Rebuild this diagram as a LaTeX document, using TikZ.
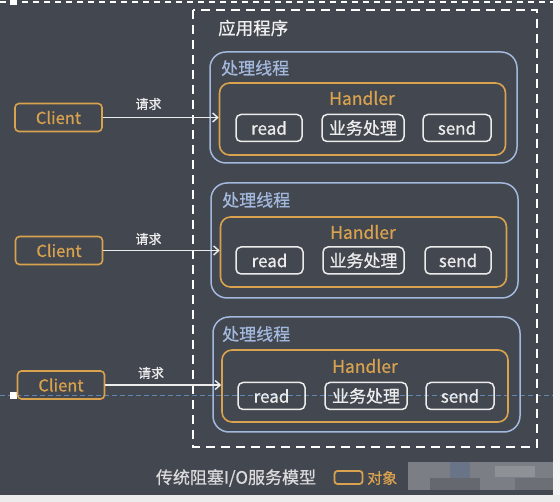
\documentclass[tikz,border=0pt]{standalone}
\usepackage{fontspec}
\setmainfont{Noto Sans CJK SC}[FakeBold=0.6]
\usetikzlibrary{arrows.meta}
\definecolor{bg}{HTML}{43474F}
\definecolor{gold}{HTML}{D9A24E}
\definecolor{tblue}{HTML}{A3B8DD}
\definecolor{wline}{HTML}{ECECEC}
\definecolor{guide}{HTML}{5E86B0}
\tikzset{
  client/.style={draw=gold, line width=1.6pt, rounded corners=4pt, minimum width=87pt, minimum height=28pt, text=gold, font=\fontsize{16.5}{16.5}\selectfont, inner sep=0pt},
  thread/.style={draw=tblue, line width=1.5pt, rounded corners=16pt, minimum width=307pt, inner sep=0pt},
  handler/.style={draw=gold, line width=1.6pt, rounded corners=10pt, minimum width=286pt, inner sep=0pt},
  op/.style={draw=wline, line width=1.5pt, rounded corners=5pt, minimum height=27pt, text=wline, font=\fontsize{17}{17}\selectfont, inner sep=0pt},
  ttl/.style={text=tblue, font=\fontsize{17}{17}\selectfont, anchor=west, inner sep=0pt},
  htl/.style={text=gold, font=\fontsize{17.5}{17.5}\selectfont, inner sep=0pt},
  req/.style={text=wline, font=\fontsize{13}{13}\selectfont, inner sep=0pt},
  reqarrow/.style={draw=wline, line width=1.4pt, -{Straight Barb[length=5pt,width=9pt]}},
}
\begin{document}
\begin{tikzpicture}[x=1pt, y=-1pt]
\useasboundingbox (0,0) rectangle (560,502);
\fill[bg] (0,0) rectangle (560,502);
% screen edges
\fill[white!92!gray] (553,0) rectangle (560,502);
\fill[white!85!gray] (0,495) rectangle (560,502);
\draw[white, line width=1.5pt, dash pattern=on 6pt off 5pt] (0,2) -- (553,2);
\fill[white] (10,0) rectangle (17,5);
% guide line artifact
\draw[guide, line width=0.6pt, dash pattern=on 5pt off 3pt] (0,395) -- (553,395);
\fill[white] (10,392) rectangle (17,399);
% application dashed box
\draw[white, line width=1.6pt, dash pattern=on 9pt off 6pt] (193,10) rectangle (537,447);
\node[text=white!92!bg, font=\fontsize{17.5}{17.5}\selectfont, anchor=west, inner sep=0pt] (app) at (218,28) {应用程序};

% thread 1
\node[thread, minimum height=111pt] (t1) at (363.5,107.5) {};
\node[ttl] (t1l) at (221,68) {处理线程};
\node[handler, minimum height=72pt] (h1) at (362.5,119) {};
\node[htl] (h1l) at (362,98) {Handler};
\node[op, minimum width=66pt] (r1) at (269,128) {read};
\node[op, minimum width=82pt] (b1) at (363,128) {业务处理};
\node[op, minimum width=68pt] (s1) at (457,128) {send};
\node[client] (c1) at (58.5,117.5) {Client};
\node[req] (q1) at (148.5,104) {请求};
\draw[reqarrow] (c1.east) -- (h1.west |- c1.east);

% thread 2
\node[thread, minimum height=115pt] (t2) at (364.5,240.5) {};
\node[ttl] (t2l) at (222,200) {处理线程};
\node[handler, minimum height=70pt] (h2) at (363.5,252) {};
\node[htl] (h2l) at (363,232) {Handler};
\node[op, minimum width=67pt] (r2) at (269.5,260.5) {read};
\node[op, minimum width=81pt] (b2) at (363.5,260.5) {业务处理};
\node[op, minimum width=66pt] (s2) at (458,260.5) {send};
\node[client] (c2) at (59,250.5) {Client};
\node[req] (q2) at (148.5,239) {请求};
\draw[reqarrow] (c2.east) -- (h2.west |- c2.east);

% thread 3
\node[thread, minimum height=115pt] (t3) at (366.5,374.5) {};
\node[ttl] (t3l) at (222,334) {处理线程};
\node[handler, minimum height=72pt] (h3) at (365,386) {};
\node[htl] (h3l) at (365,366) {Handler};
\node[op, minimum width=67pt] (r3) at (271.5,396) {read};
\node[op, minimum width=82pt] (b3) at (366,396) {业务处理};
\node[op, minimum width=68pt] (s3) at (460,396) {send};
\node[client] (c3) at (61,385) {Client};
\node[req] (q3) at (151,373) {请求};
\draw[reqarrow] (c3.east) -- (h3.west |- c3.east);

% legend
\node[text=white!80!bg, font=\fontsize{17}{17}\selectfont, inner sep=0pt] (cap) at (236,478) {传统阻塞I/O服务模型};
\node[draw=gold, line width=1.8pt, rounded corners=3pt, minimum width=28pt, minimum height=13pt, inner sep=0pt] (lg) at (348.5,477.5) {};
\node[text=gold, font=\fontsize{15}{15}\selectfont, anchor=west, inner sep=0pt] (lgt) at (367,478) {对象};
% blurred watermark
\fill[white!30!bg] (408,462) rectangle (553,490);
\fill[white!18!bg] (430,478) rectangle (480,490);
\fill[tblue!40!bg] (450,462) rectangle (470,478);
\fill[white!40!bg] (495,466) rectangle (535,477);
\fill[white!22!bg] (515,478) rectangle (553,490);
\end{tikzpicture}
\end{document}
